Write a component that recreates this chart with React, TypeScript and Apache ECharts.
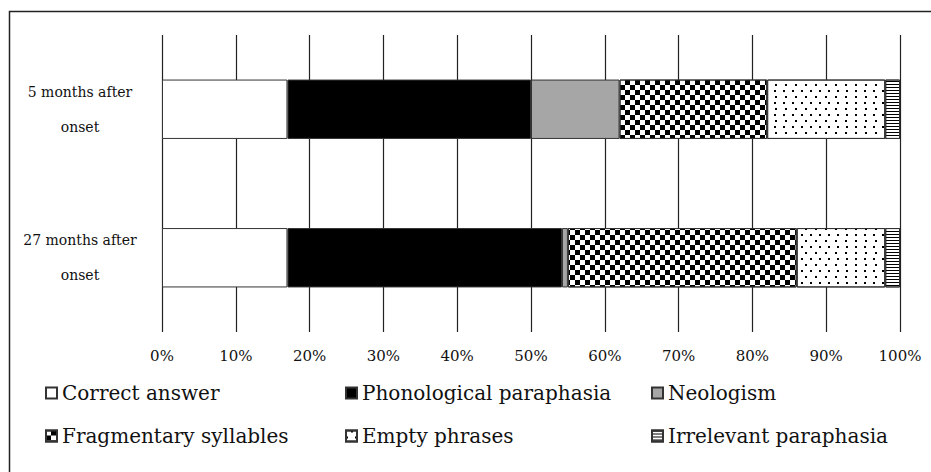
import React, { useEffect, useRef } from "react";
import * as echarts from "echarts";

const categories = ["5 months after\nonset", "27 months after\nonset"];
const seriesNames = [
  "Correct answer",
  "Phonological paraphasia",
  "Neologism",
  "Fragmentary syllables",
  "Empty phrases",
  "Irrelevant paraphasia",
];
const correctAnswer = [17, 17];
const phonological = [33, 37.2];
const neologism = [12, 0.8];
const fragmentary = [20, 31];
const emptyPhrases = [16, 12];
const irrelevant = [2, 2];
const xTicks = [0, 10, 20, 30, 40, 50, 60, 70, 80, 90, 100];

const FONT = "DejaVu Serif";

export default function App() {
  const ref = useRef<HTMLDivElement>(null);
  useEffect(() => {
    if (!ref.current) return;
    const chart = echarts.init(ref.current, null, { renderer: "svg" });
    const border = { borderColor: "#333", borderWidth: 1 };
    const styles: any[] = [
      { color: "#ffffff", ...border },
      { color: "#000000", ...border },
      { color: "#a6a6a6", ...border },
      {
        color: "#ffffff",
        ...border,
        decal: {
          symbol: "rect",
          symbolSize: 1,
          symbolKeepAspect: false,
          color: "#000",
          backgroundColor: "#fff",
          dashArrayX: [[5, 5], [0, 5, 5, 0]],
          dashArrayY: [5, 0],
        },
      },
      {
        color: "#ffffff",
        ...border,
        decal: {
          symbol: "rect",
          symbolSize: 1,
          symbolKeepAspect: false,
          color: "#000",
          backgroundColor: "#fff",
          dashArrayX: [[2, 7], [0, 4.5, 2, 2.5]],
          dashArrayY: [2, 3.5],
        },
      },
      {
        color: "#ffffff",
        ...border,
        decal: {
          symbol: "rect",
          symbolSize: 1,
          symbolKeepAspect: false,
          color: "#000",
          backgroundColor: "#fff",
          dashArrayX: [1, 0],
          dashArrayY: [1, 2],
        },
      },
    ];
    const values = [correctAnswer, phonological, neologism, fragmentary, emptyPhrases, irrelevant];
    const legendPos = [
      [45, 383],
      [345, 383],
      [651, 383],
      [45, 426],
      [345, 426],
      [651, 426],
    ];
    chart.setOption({
      animation: false,
      backgroundColor: "#ffffff",
      textStyle: { fontFamily: FONT },
      grid: { left: 162, right: 31, top: 35, bottom: 140, containLabel: false },
      xAxis: {
        type: "value",
        min: 0,
        max: 100,
        interval: 10,
        axisLine: { show: false },
        axisTick: { show: false },
        splitLine: { show: true, lineStyle: { color: "#222", width: 1.2 } },
        axisLabel: {
          formatter: (v: number) => (xTicks.includes(v) ? v + "%" : ""),
          color: "#111",
          fontFamily: FONT,
          fontSize: 15,
          margin: 16,
        },
      },
      yAxis: {
        type: "category",
        inverse: true,
        data: categories,
        axisLine: { show: false },
        axisTick: { show: false },
        splitLine: { show: false },
        axisLabel: {
          align: "center",
          margin: 82,
          color: "#111",
          fontFamily: FONT,
          fontSize: 14,
          lineHeight: 35,
          padding: [0, 0, 8, 0],
        },
      },
      legend: seriesNames.map((n, i) => ({
        data: [n],
        left: legendPos[i][0],
        top: legendPos[i][1],
        padding: 0,
        itemWidth: 11,
        itemHeight: 11,
        icon: "rect",
        selectedMode: false,
        textStyle: { fontFamily: FONT, fontSize: 20, color: "#111" },
      })),
      graphic: [
        {
          type: "rect",
          shape: { x: 9.5, y: 11.5, width: 960, height: 500 },
          style: { fill: "none", stroke: "#222", lineWidth: 1.5 },
          silent: true,
        },
      ],
      series: seriesNames.map((n, i) => ({
        name: n,
        type: "bar",
        stack: "total",
        barWidth: "40%",
        data: values[i],
        itemStyle: styles[i],
        emphasis: { disabled: true },
      })),
    });
    return () => chart.dispose();
  }, []);
  return (
    <div
      ref={ref}
      style={{ position: "fixed", left: 0, top: 0, width: 931, height: 472 }}
    />
  );
}
